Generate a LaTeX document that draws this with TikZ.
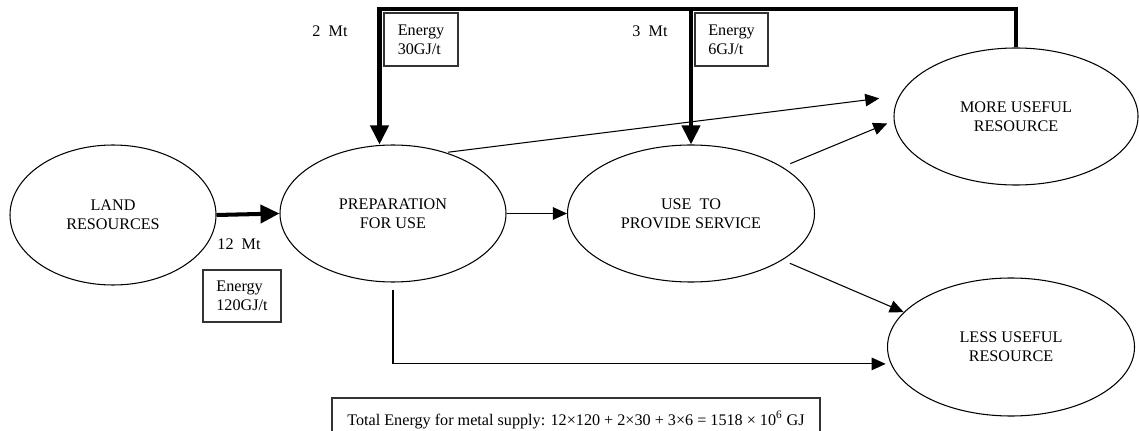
\documentclass[tikz,border=0pt]{standalone}
\usepackage{fontspec}
\setmainfont{Liberation Serif}
\usepackage{xcolor}
\usetikzlibrary{arrows.meta,shapes.geometric}
\definecolor{ink}{HTML}{000000}
\definecolor{frame}{HTML}{333333}
\tikzset{
  blob/.style={draw=ink, ellipse, inner sep=0pt, line width=0.6pt, align=center},
  heavy/.style={draw=ink, line width=2.3pt, -{Triangle[length=0.38cm, width=0.36cm]}},
  arr/.style={draw=ink, line width=0.6pt, -{Triangle[length=0.28cm, width=0.25cm]}},
  ebox/.style={draw=frame, line width=0.6pt, align=left, inner sep=0pt},
  lbl/.style={text=ink}
}

\begin{document}
\begin{tikzpicture}[font=\fontsize{9.2}{11}\selectfont]
  \useasboundingbox (0,0) rectangle (22.78,8.6);

  % stages of the flow
  \node[blob, minimum width=4.12cm, minimum height=2.80cm] (land) at (2.26,4.30) {LAND\\RESOURCES};
  \node[blob, minimum width=4.52cm, minimum height=2.74cm] (prep) at (7.86,4.33) {PREPARATION\\FOR USE};
  \node[blob, minimum width=4.94cm, minimum height=2.74cm] (use) at (13.82,4.33) {USE~ TO\\PROVIDE SERVICE};
  \node[blob, minimum width=4.88cm, minimum height=2.74cm] (more) at (20.32,6.27) {MORE USEFUL\\RESOURCE};
  \node[blob, minimum width=4.94cm, minimum height=2.76cm] (less) at (20.22,1.66) {LESS USEFUL\\RESOURCE};

  % main material flow
  \draw[heavy] (land.east) -- (prep.west);
  \draw[arr] (prep.east) -- (use.west);
  \draw[arr, shorten <=0.04cm, shorten >=0.4cm] (prep.49.5) -- (more.170.6);
  \draw[arr, shorten <=0.17cm, shorten >=0.14cm] (use.27.6) -- (more.182.6);
  \draw[arr, shorten <=0.16cm] (use.-27.3) -- (less.162.7);
  \draw[arr, shorten >=0.1cm] ([yshift=-0.14cm]prep.south) |- (less.188.6);

  % recycled material
  \draw[heavy] (more.north) -- ++(0,0.76) coordinate (ret) -| ([xshift=-0.27cm]prep.north);
  \draw[heavy] (ret -| use.north) -- (use.north);

  % tonnages and energies
  \node[lbl] (m12) at (4.78,3.72) {12~ Mt};
  \node[lbl] (m2) at (6.60,7.98) {2~ Mt};
  \node[lbl] (m3) at (13.00,7.98) {3~ Mt};
  \node[ebox, minimum width=1.56cm, minimum height=1.04cm] (e120) at (4.84,2.68) {Energy\\120GJ/t};
  \node[ebox, minimum width=1.48cm, minimum height=1.06cm] (e30) at (8.42,7.81) {Energy\\30GJ/t};
  \node[ebox, minimum width=1.46cm, minimum height=1.06cm] (e6) at (14.63,7.81) {Energy\\6GJ/t};

  \node[ebox, minimum width=9.76cm, minimum height=0.88cm] (total) at (11.52,0.20)
    {Total Energy for metal supply: 12×120 + 2×30 + 3×6 = 1518 × 10\textsuperscript{6} GJ};
\end{tikzpicture}
\end{document}
